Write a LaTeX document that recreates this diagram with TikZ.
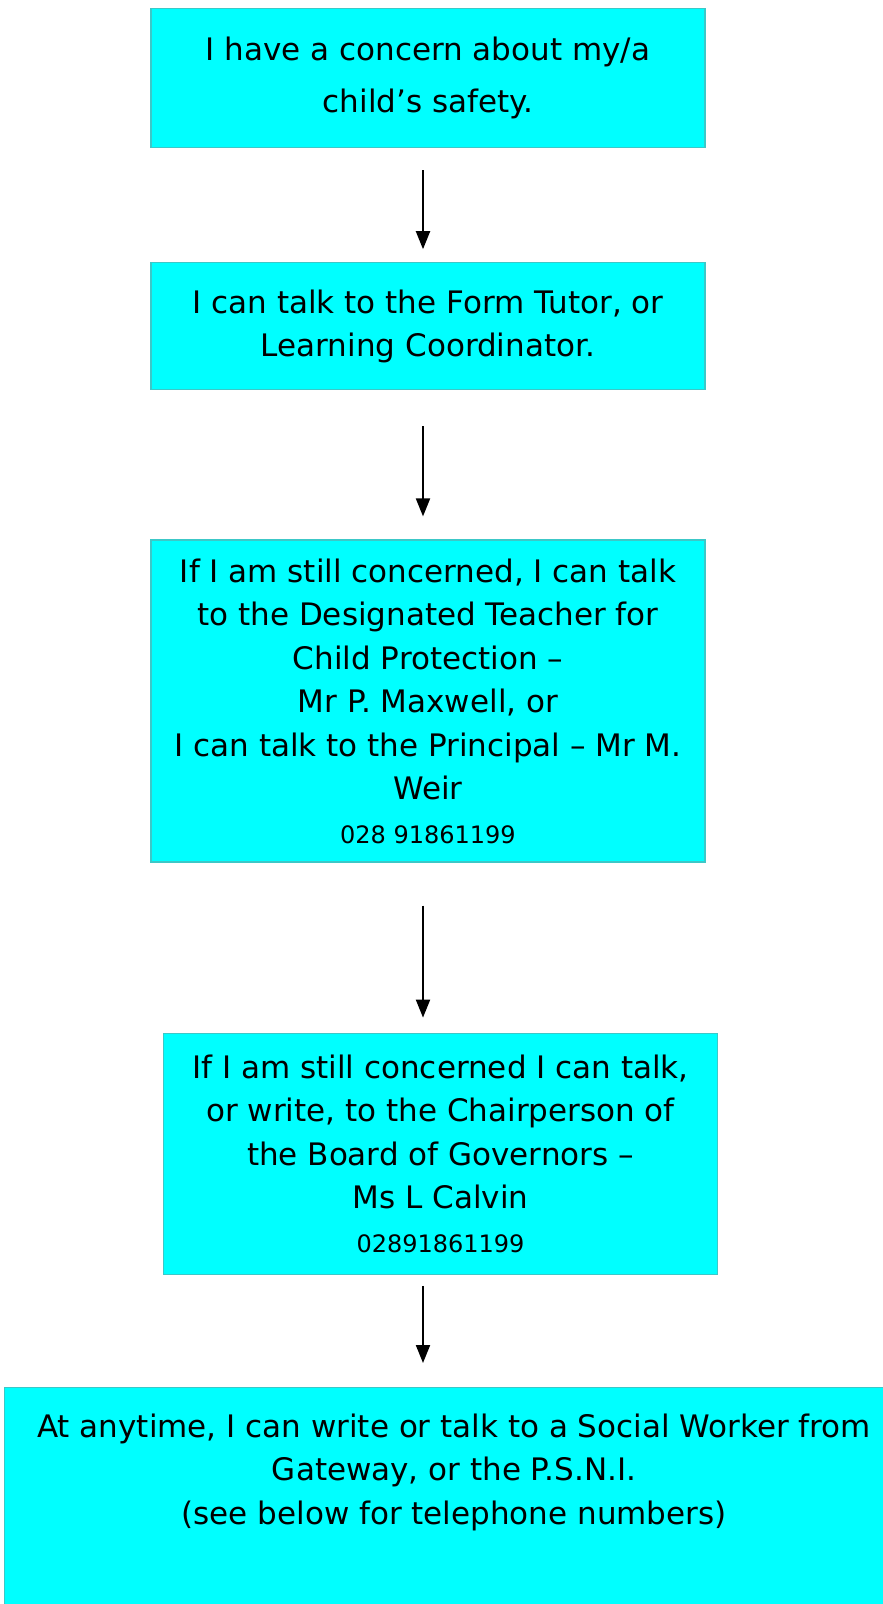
\documentclass[tikz,border=0pt]{standalone}
\usepackage{fontspec}
\setmainfont{DejaVu Sans}
\usetikzlibrary{positioning, arrows.meta}
\definecolor{cBox}{HTML}{00FFFF}
\definecolor{cEdge}{HTML}{3CC8C8}
\tikzset{
  stepbox/.style={
    draw=cEdge, line width=1.2pt,
    fill=cBox,
    text=black,
    align=center,
    inner sep=0pt,
    minimum width=554pt,
    font=\fontsize{31}{43.5}\selectfont
  },
  flow/.style={
    -{Triangle[length=18pt,width=14pt]},
    line width=2pt,
    draw=black
  }
}
\newcommand{\phone}[1]{{\fontsize{24}{43.5}\selectfont #1}}

\begin{document}
\begin{tikzpicture}[x=1pt, y=1pt]
  \useasboundingbox (0,0) rectangle (883,-1604);
  \coordinate (ax) at (423,0);

  \node[stepbox, minimum height=139pt, anchor=north] (box1) at (428,-8)
    {I have a concern about my/a\\[9pt]child’s safety.};
  \node[stepbox, minimum height=127pt, below=114pt of box1] (box2)
    {I can talk to the Form Tutor, or\\Learning Coordinator.};
  \node[stepbox, minimum height=322pt, below=149pt of box2] (box3)
    {If I am still concerned, I can talk\\to the Designated Teacher for\\Child Protection –\\Mr P. Maxwell, or\\I can talk to the Principal – Mr M.\\Weir\\\phone{028 91861199}};
  \node[stepbox, minimum height=241pt, below=170pt of box3, xshift=12.5pt] (box4)
    {If I am still concerned I can talk,\\or write, to the Chairperson of\\the Board of Governors –\\Ms L Calvin\\\phone{02891861199}};
  \node[stepbox, anchor=north west, inner ysep=26pt] (box5) at (4,-1387)
    {\parbox[t][240pt][t]{899pt}{\centering At anytime, I can write or talk to a Social Worker from\\Gateway, or the P.S.N.I.\\(see below for telephone numbers)}};

  \draw[flow, shorten <=22pt, shorten >=13pt] (box1.south -| ax) -- (box2.north -| ax);
  \draw[flow, shorten <=36pt, shorten >=23pt] (box2.south -| ax) -- (box3.north -| ax);
  \draw[flow, shorten <=43pt, shorten >=15pt] (box3.south -| ax) -- (box4.north -| ax);
  \draw[flow, shorten <=11pt, shorten >=24pt] (box4.south -| ax) -- (box5.north -| ax);
\end{tikzpicture}
\end{document}
